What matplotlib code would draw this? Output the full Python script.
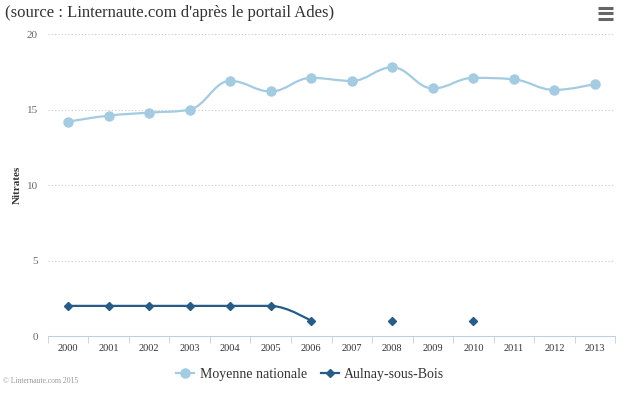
import numpy as np
import matplotlib
matplotlib.use('Agg')
import matplotlib.pyplot as plt
from matplotlib.path import Path
from matplotlib.patches import PathPatch
from matplotlib.lines import Line2D

# données
annees = ['2000', '2001', '2002', '2003', '2004', '2005', '2006',
          '2007', '2008', '2009', '2010', '2011', '2012', '2013']
moyenne = [14.2, 14.6, 14.8, 15.0, 16.9, 16.2, 17.1, 16.9, 17.8, 16.4, 17.1, 17.0, 16.3, 16.7]
aulnay = [2, 2, 2, 2, 2, 2, 1, None, 1, None, 1, None, None, None]

col_moy = '#a3cbe2'
col_aul = '#255d88'

plt.rcParams['font.family'] = ['Liberation Serif', 'DejaVu Serif']


def spline_path(xs, ys, smoothing=1.5):
    # courbe type "spline" (points de contrôle calculés à partir des voisins)
    n = len(xs)
    left = [None] * n
    right = [None] * n
    for i in range(n):
        x, y = xs[i], ys[i]
        if 0 < i < n - 1:
            lx, ly = xs[i - 1], ys[i - 1]
            nx, ny = xs[i + 1], ys[i + 1]
            lcx = (smoothing * x + lx) / (smoothing + 1)
            lcy = (smoothing * y + ly) / (smoothing + 1)
            rcx = (smoothing * x + nx) / (smoothing + 1)
            rcy = (smoothing * y + ny) / (smoothing + 1)
            corr = (rcy - lcy) * (rcx - x) / (rcx - lcx) + y - rcy
            lcy += corr
            rcy += corr
            if lcy > ly and lcy > y:
                lcy = max(ly, y)
                rcy = 2 * y - lcy
            elif lcy < ly and lcy < y:
                lcy = min(ly, y)
                rcy = 2 * y - lcy
            if rcy > ny and rcy > y:
                rcy = max(ny, y)
                lcy = 2 * y - rcy
            elif rcy < ny and rcy < y:
                rcy = min(ny, y)
                lcy = 2 * y - rcy
            left[i] = (lcx, lcy)
            right[i] = (rcx, rcy)
        else:
            left[i] = (x, y)
            right[i] = (x, y)
    verts = [(xs[0], ys[0])]
    codes = [Path.MOVETO]
    for i in range(1, n):
        verts += [right[i - 1], left[i], (xs[i], ys[i])]
        codes += [Path.CURVE4] * 3
    return Path(verts, codes)


fig = plt.figure(figsize=(6.33, 3.94), dpi=100)
ax = fig.add_axes([0.0754, 0.147, 0.8966, 0.7665])

x = np.arange(len(annees))

# Moyenne nationale
ax.add_patch(PathPatch(spline_path(list(x), moyenne), fill=False,
                       edgecolor=col_moy, lw=1.6, zorder=3))
ax.plot(x, moyenne, 'o', color=col_moy, ms=6.5, zorder=4)

# Aulnay-sous-Bois : segments continus seulement
seg_x, seg_y = [], []
for xi, v in list(zip(x, aulnay)) + [(None, None)]:
    if v is None:
        if len(seg_x) > 1:
            ax.add_patch(PathPatch(spline_path(seg_x, seg_y), fill=False,
                                   edgecolor=col_aul, lw=1.6, zorder=3))
        seg_x, seg_y = [], []
    else:
        seg_x.append(xi)
        seg_y.append(v)
ax_x = [xi for xi, v in zip(x, aulnay) if v is not None]
ax_y = [v for v in aulnay if v is not None]
ax.plot(ax_x, ax_y, 'D', color=col_aul, ms=4.5, zorder=4)

ax.set_xlim(-0.5, len(annees) - 0.5)
ax.set_ylim(0, 20)
ax.set_yticks([0, 5, 10, 15, 20])
ax.set_xticks(x)
ax.set_xticklabels(annees)
ax.set_xticks(np.arange(-0.5, len(annees)), minor=True)

for s in ['top', 'right', 'left']:
    ax.spines[s].set_visible(False)
ax.spines['bottom'].set_color('#c0d0e0')
ax.tick_params(axis='x', which='major', length=0, pad=6, labelsize=7.5, labelcolor='#333333')
ax.tick_params(axis='x', which='minor', length=5, color='#c0d0e0', direction='out')
ax.tick_params(axis='y', length=0, pad=7, labelsize=8, labelcolor='#666666')
for yv in [5, 10, 15, 20]:
    ax.axhline(yv, color='#c8c8c8', lw=0.8, ls=(0, (1, 2)), zorder=1)

ax.set_ylabel('Nitrates', fontsize=8, fontweight='bold', color='#333333')
ax.yaxis.set_label_coords(-0.045, 0.5)

fig.text(0.008, 0.968, "(source : Linternaute.com d'après le portail Ades)",
         fontsize=12, color='#333333', ha='left', va='center')
fig.text(0.005, 0.032, '© Linternaute.com 2015', fontsize=5.5, color='#999999',
         ha='left', va='center')

# icône menu
for yy in [0.979, 0.966, 0.953]:
    fig.add_artist(Line2D([0.944, 0.968], [yy, yy], color='#666666', lw=2.2,
                          solid_capstyle='butt'))

handles = [Line2D([], [], color=col_moy, marker='o', ms=6.5, lw=1.6),
           Line2D([], [], color=col_aul, marker='D', ms=4.5, lw=1.6)]
fig.legend(handles, ['Moyenne nationale', 'Aulnay-sous-Bois'], loc='center',
           bbox_to_anchor=(0.49, 0.05), ncol=2, frameon=False, fontsize=10,
           handlelength=1.3, handletextpad=0.4, columnspacing=1.0,
           labelcolor='#333333')

fig.savefig('out.png', dpi=100)
